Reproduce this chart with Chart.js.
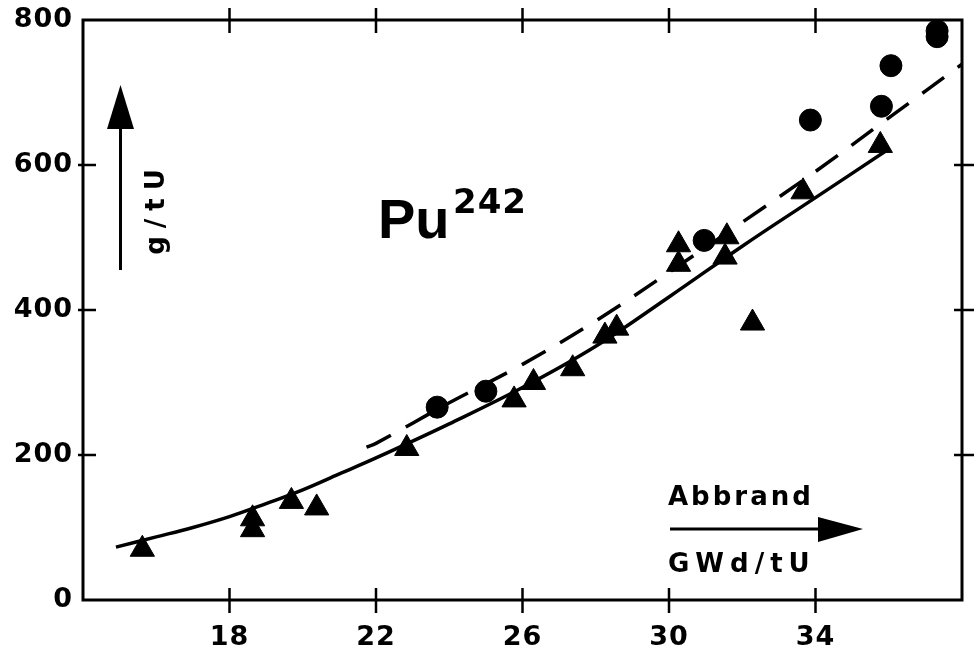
<!DOCTYPE html>
<html>
<head>
<meta charset="utf-8">
<script src="https://cdn.jsdelivr.net/npm/chart.js@4/dist/chart.umd.min.js"></script>
<style>
  html, body { margin: 0; padding: 0; background: #fff; }
  #wrap { width: 977px; height: 656px; }
</style>
</head>
<body>
<div id="wrap"><canvas id="pu242Chart"></canvas></div>
<script>
// Abbrand in GWd/tU, Pu-242 in g/tU
const triangleBurnup = [15.62, 18.63, 18.63, 19.69, 20.38, 22.84, 25.77, 26.3, 27.37, 28.25, 28.57, 30.26, 30.26, 31.58, 31.53, 32.28, 33.66, 35.77];
const triangleValues = [70, 112, 97, 136, 127, 209, 276, 300, 319, 364, 375, 490, 463, 501, 473, 382, 563, 627];

const circleBurnup = [23.67, 25.0, 30.96, 33.86, 35.8, 36.06, 37.32, 37.32];
const circleValues = [266, 288, 496, 662, 681, 737, 777, 785];

// solid curve
const solidBurnup = [14.9, 16, 17, 18, 19, 20, 21, 22, 24, 26, 28, 30, 32, 34, 36];
const solidValues = [73, 87, 100, 115, 133, 152, 174, 196, 243, 293, 350, 418, 488, 555, 622];

// dashed curve
const dashBurnup = [21.74, 22, 24, 26, 28, 30, 32, 34, 36, 38];
const dashValues = [211, 216, 272, 325, 385, 452, 521, 591, 665, 739];

const xTicks = [18, 22, 26, 30, 34];
const yTicks = [0, 200, 400, 600, 800];

const pts = (xs, ys) => xs.map((x, i) => ({ x: x, y: ys[i] }));

const tickFont = { family: '"DejaVu Sans"', size: 27, weight: 'bold' };

// frame, crossing tick marks and the labels inside the plot
const framePlugin = {
  id: 'frame',
  beforeDraw(chart) {
    chart.ctx.letterSpacing = '1px';
  },
  afterDraw(chart) {
    const ctx = chart.ctx;
    const a = chart.chartArea;
    const x = chart.scales.x, y = chart.scales.y;
    ctx.save();
    ctx.letterSpacing = '0px';
    ctx.strokeStyle = '#000';
    ctx.fillStyle = '#000';
    ctx.lineWidth = 3;
    ctx.strokeRect(a.left, a.top, a.right - a.left, a.bottom - a.top);

    ctx.lineWidth = 2.5;
    ctx.beginPath();
    xTicks.forEach(v => {
      const px = x.getPixelForValue(v);
      ctx.moveTo(px, a.bottom - 12); ctx.lineTo(px, a.bottom + 13);
      ctx.moveTo(px, a.top - 12); ctx.lineTo(px, a.top + 13);
    });
    yTicks.slice(1, -1).forEach(v => {
      const py = y.getPixelForValue(v);
      ctx.moveTo(a.left - 5, py); ctx.lineTo(a.left + 13, py);
      ctx.moveTo(a.right - 8, py); ctx.lineTo(a.right + 12, py);
    });
    ctx.stroke();

    // Pu 242
    ctx.textAlign = 'left';
    ctx.textBaseline = 'alphabetic';
    ctx.font = 'bold 56px "Liberation Sans"';
    ctx.fillText('Pu', 378, 238);
    ctx.font = 'bold 34px "DejaVu Sans"';
    ctx.letterSpacing = '1px';
    ctx.fillText('242', 453, 213);

    // y label with arrow
    ctx.lineWidth = 3;
    ctx.beginPath();
    ctx.moveTo(120.5, 270); ctx.lineTo(120.5, 120);
    ctx.stroke();
    ctx.beginPath();
    ctx.moveTo(120.5, 85); ctx.lineTo(134, 129); ctx.lineTo(107, 129);
    ctx.closePath(); ctx.fill();

    ctx.save();
    ctx.translate(157, 212);
    ctx.rotate(-Math.PI / 2);
    ctx.textAlign = 'center';
    ctx.textBaseline = 'middle';
    ctx.font = 'bold 26px "DejaVu Sans"';
    ctx.letterSpacing = '8px';
    ctx.fillText('g/tU', 4, 0);
    ctx.restore();

    // x label with arrow
    ctx.font = 'bold 26px "DejaVu Sans"';
    ctx.letterSpacing = '3px';
    ctx.fillText('Abbrand', 668, 505);
    ctx.letterSpacing = '6px';
    ctx.fillText('GWd/tU', 668, 572);
    ctx.beginPath();
    ctx.moveTo(670, 529); ctx.lineTo(825, 529);
    ctx.stroke();
    ctx.beginPath();
    ctx.moveTo(863, 529); ctx.lineTo(818, 517); ctx.lineTo(818, 542);
    ctx.closePath(); ctx.fill();
    ctx.restore();
  }
};

window.addEventListener('load', () => {
  const ctx = document.getElementById('pu242Chart').getContext('2d');
  new Chart(ctx, {
    type: 'scatter',
    data: {
      datasets: [
        {
          data: pts(solidBurnup, solidValues),
          showLine: true,
          borderColor: '#000',
          borderWidth: 3.5,
          pointRadius: 0,
          tension: 0.4
        },
        {
          data: pts(dashBurnup, dashValues),
          showLine: true,
          borderColor: '#000',
          borderWidth: 3.5,
          borderDash: [27, 17],
          pointRadius: 0,
          tension: 0.4
        },
        {
          data: pts(triangleBurnup, triangleValues),
          pointStyle: 'triangle',
          pointRadius: 14,
          backgroundColor: '#000',
          borderColor: '#000',
          borderWidth: 1,
          clip: false
        },
        {
          data: pts(circleBurnup, circleValues),
          pointStyle: 'circle',
          pointRadius: 11,
          backgroundColor: '#000',
          borderColor: '#000',
          borderWidth: 1,
          clip: false
        }
      ]
    },
    options: {
      responsive: true,
      maintainAspectRatio: false,
      animation: false,
      events: [],
      layout: { padding: { top: 20, right: 12, left: 0, bottom: 0 } },
      plugins: {
        legend: { display: false },
        tooltip: { enabled: false }
      },
      scales: {
        x: {
          type: 'linear',
          min: 14,
          max: 38,
          afterBuildTicks: s => { s.ticks = xTicks.map(v => ({ value: v })); },
          afterFit: s => { s.height = 56; s.paddingLeft = 0; s.paddingRight = 0; },
          grid: { display: false, drawTicks: false },
          border: { display: false },
          ticks: { color: '#000', padding: 22, maxRotation: 0, font: tickFont }
        },
        y: {
          min: 0,
          max: 800,
          afterBuildTicks: s => { s.ticks = yTicks.map(v => ({ value: v })); },
          afterFit: s => { s.width = 83; s.paddingTop = 0; s.paddingBottom = 0; },
          grid: { display: false, drawTicks: false },
          border: { display: false },
          ticks: { color: '#000', padding: 10, font: tickFont }
        }
      }
    },
    plugins: [framePlugin]
  });
});
</script>
</body>
</html>
